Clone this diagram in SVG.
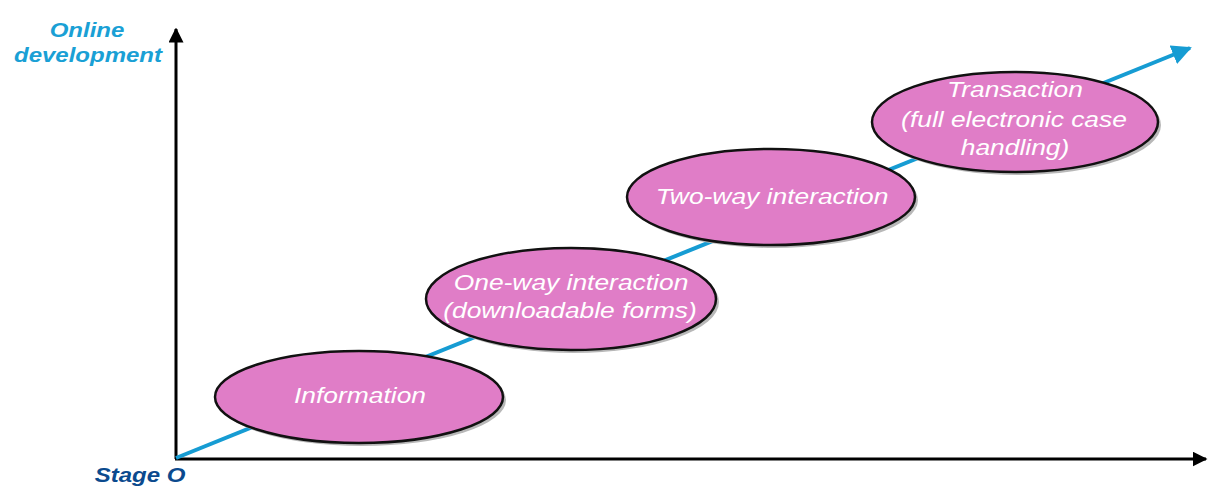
<svg xmlns="http://www.w3.org/2000/svg" width="1210" height="488" viewBox="0 0 1210 488">
<style>
.stage{fill:#E07DC7;stroke:#111;stroke-width:2.5}
.shadow{fill:#b8b8b8}
.lbl{font-family:"Liberation Sans",Arial,sans-serif;font-style:italic;font-size:22px;fill:#fff;text-anchor:middle}
.ax{font-family:"Liberation Sans",Arial,sans-serif;font-style:italic;font-weight:bold;font-size:20px;text-anchor:middle}
.axis{stroke:#000;stroke-width:3;fill:none}
</style>
<defs>
<marker id="blueHead" viewBox="0 0 10 10" refX="9" refY="5" markerWidth="5" markerHeight="5" orient="auto" markerUnits="strokeWidth">
<path d="M0,0 L10,5 L0,10 z" fill="#169CD3"/>
</marker>
<marker id="blackHead" viewBox="0 0 10 10" refX="9" refY="5" markerWidth="5" markerHeight="5" orient="auto" markerUnits="strokeWidth">
<path d="M0,0 L10,5 L0,10 z" fill="#000"/>
</marker>
</defs>
<g id="connectors">
<line class="axis" x1="176" y1="459" x2="176" y2="29" marker-end="url(#blackHead)"/>
<line class="axis" x1="175" y1="459" x2="1206" y2="459" marker-end="url(#blackHead)"/>
<line x1="176" y1="458" x2="1190" y2="48" stroke="#169CD3" stroke-width="4" marker-end="url(#blueHead)"/>
</g>
<g id="axis-labels">
<text class="ax" transform="translate(87,37) scale(1.2,1)" fill="#1AA0D5">Online</text>
<text class="ax" transform="translate(88,62) scale(1.2,1)" fill="#1AA0D5">development</text>
<text class="ax" transform="translate(140,482) scale(1.2,1)" fill="#0B4A8E">Stage O</text>
</g>
<g id="information">
<ellipse class="shadow" cx="362" cy="400" rx="144" ry="46"/>
<ellipse class="stage" cx="359" cy="397" rx="144" ry="46"/>
<text class="lbl" transform="translate(360,403) scale(1.2,1)">Information</text>
</g>
<g id="one-way">
<ellipse class="shadow" cx="574" cy="302" rx="145" ry="51"/>
<ellipse class="stage" cx="571" cy="299" rx="145" ry="51"/>
<text class="lbl" transform="translate(571,290) scale(1.2,1)">One-way interaction</text>
<text class="lbl" transform="translate(570,318) scale(1.2,1)">(downloadable forms)</text>
</g>
<g id="two-way">
<ellipse class="shadow" cx="774" cy="200" rx="144" ry="48"/>
<ellipse class="stage" cx="771" cy="197" rx="144" ry="48"/>
<text class="lbl" transform="translate(772,204) scale(1.2,1)">Two-way interaction</text>
</g>
<g id="transaction">
<ellipse class="shadow" cx="1018" cy="125" rx="143" ry="50"/>
<ellipse class="stage" cx="1015" cy="122" rx="143" ry="50"/>
<text class="lbl" transform="translate(1015,97) scale(1.2,1)">Transaction</text>
<text class="lbl" transform="translate(1014,127) scale(1.2,1)">(full electronic case</text>
<text class="lbl" transform="translate(1015,155) scale(1.2,1)">handling)</text>
</g>
</svg>
